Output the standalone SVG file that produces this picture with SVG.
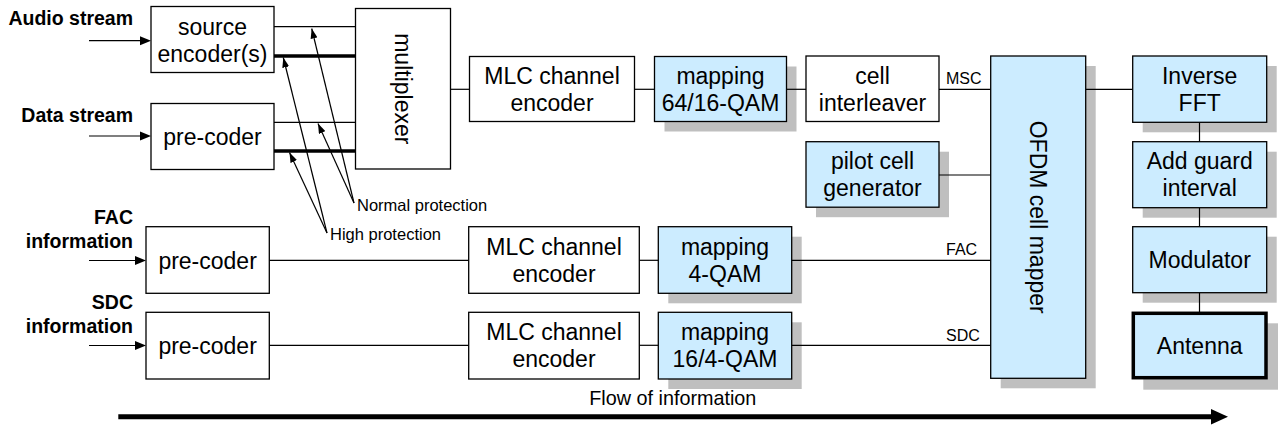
<svg xmlns="http://www.w3.org/2000/svg" width="1284" height="428" viewBox="0 0 1284 428">
<style>
.box{fill:#fff;stroke:#000;stroke-width:1.3}
.blue{fill:#CCECFF;stroke:#000;stroke-width:1.3}
.shadow{fill:#BFBFBF;stroke:none}
.t{font-family:"Liberation Sans",Arial,sans-serif;font-size:23px;fill:#000;text-anchor:middle}
.lbl{font-family:"Liberation Sans",Arial,sans-serif;font-size:19.5px;font-weight:bold;fill:#000;text-anchor:end}
.small{font-family:"Liberation Sans",Arial,sans-serif;font-size:16px;fill:#000}
.prot{font-family:"Liberation Sans",Arial,sans-serif;font-size:16.5px;fill:#000}
.flow{font-family:"Liberation Sans",Arial,sans-serif;font-size:19.8px;fill:#000;text-anchor:middle}
.ln{stroke:#000;stroke-width:1.2;fill:none}
.thick{stroke:#000;stroke-width:3.4;fill:none}
.ah{fill:#000}
</style>
<defs>
<marker id="sm" markerUnits="userSpaceOnUse" markerWidth="10" markerHeight="7" refX="10" refY="3.5" orient="auto">
<path d="M0,0 L10,3.5 L0,7 z" fill="#000"/>
</marker>
</defs>

<g id="shadows">
<rect class="shadow" x="664.5" y="66.5" width="132" height="65"/>
<rect class="shadow" x="816" y="151.7" width="133" height="65.5"/>
<rect class="shadow" x="1000.7" y="66" width="95" height="322.3"/>
<rect class="shadow" x="1142.7" y="66" width="134" height="66.3"/>
<rect class="shadow" x="1142.7" y="151.7" width="134" height="66"/>
<rect class="shadow" x="1142.7" y="236.7" width="134" height="66"/>
<rect class="shadow" x="1143.3" y="323.3" width="134.7" height="66.4"/>
<rect class="shadow" x="668.3" y="236.7" width="133.4" height="66.6"/>
<rect class="shadow" x="668.3" y="322.3" width="133.4" height="66.7"/>
</g>

<g id="connectors">
<line class="ln" x1="89" y1="40.7" x2="141" y2="40.7"/>
<polygon class="ah" points="140,36.2 151,40.7 140,45.2"/>
<line class="ln" x1="89" y1="136" x2="141" y2="136"/>
<polygon class="ah" points="140,131.5 151,136 140,140.5"/>
<line class="ln" x1="89" y1="260.5" x2="136" y2="260.5"/>
<polygon class="ah" points="135,256 146,260.5 135,265"/>
<line class="ln" x1="89" y1="345.5" x2="136" y2="345.5"/>
<polygon class="ah" points="135,341 146,345.5 135,350"/>
<line class="ln" x1="274" y1="26.7" x2="355.5" y2="26.7"/>
<line class="thick" x1="274" y1="56" x2="355.5" y2="56"/>
<line class="ln" x1="274" y1="122.3" x2="355.5" y2="122.3"/>
<line class="thick" x1="274" y1="151" x2="355.5" y2="151"/>
<line class="ln" x1="450.5" y1="89.3" x2="469.5" y2="89.3"/>
<line class="ln" x1="634.5" y1="89.3" x2="654.5" y2="89.3"/>
<line class="ln" x1="786.5" y1="89.3" x2="806" y2="89.3"/>
<line class="ln" x1="939" y1="89.3" x2="990.7" y2="89.3"/>
<line class="ln" x1="939" y1="175" x2="990.7" y2="175"/>
<line class="ln" x1="1085.7" y1="89.3" x2="1132.7" y2="89.3"/>
<line class="ln" x1="269.3" y1="260.3" x2="468.7" y2="260.3"/>
<line class="ln" x1="639.3" y1="260.3" x2="658.3" y2="260.3"/>
<line class="ln" x1="791.7" y1="260.3" x2="990.7" y2="260.3"/>
<line class="ln" x1="269.3" y1="345.3" x2="468.7" y2="345.3"/>
<line class="ln" x1="639.3" y1="345.3" x2="658.3" y2="345.3"/>
<line class="ln" x1="791.7" y1="345.3" x2="990.7" y2="345.3"/>
<line class="ln" x1="1199.5" y1="122.3" x2="1199.5" y2="141.7"/>
<line class="ln" x1="1199.5" y1="207.7" x2="1199.5" y2="226.7"/>
<line class="ln" x1="1199.5" y1="292.7" x2="1199.5" y2="313"/>
<line class="ln" x1="354" y1="203" x2="311.7" y2="28.5" marker-end="url(#sm)"/>
<line class="ln" x1="354" y1="203" x2="318" y2="123.5" marker-end="url(#sm)"/>
<line class="ln" x1="327" y1="233" x2="283.3" y2="57.5" marker-end="url(#sm)"/>
<line class="ln" x1="327" y1="233" x2="289.5" y2="152.5" marker-end="url(#sm)"/>
<line x1="118.3" y1="416.8" x2="1213" y2="416.8" stroke="#000" stroke-width="5"/>
<polygon class="ah" points="1211,409 1228,416.8 1211,424.6"/>
</g>

<g id="source-encoder"><rect class="box" x="151" y="6.5" width="123" height="66"/>
<text class="t" x="212.5" y="34.5">source</text><text class="t" x="212.5" y="61.5">encoder(s)</text></g>
<g id="data-precoder"><rect class="box" x="151" y="103.5" width="123" height="66"/>
<text class="t" x="212.5" y="145">pre-coder</text></g>
<g id="multiplexer"><rect class="box" x="355.5" y="8.5" width="95" height="160.5"/>
<text class="t" transform="translate(403,88.8) rotate(90)" x="0" y="8">multiplexer</text></g>
<g id="mlc-msc"><rect class="box" x="469.5" y="56.5" width="165" height="65"/>
<text class="t" x="552" y="83.5">MLC channel</text><text class="t" x="552" y="110.5">encoder</text></g>
<g id="map-msc"><rect class="blue" x="654.5" y="56.5" width="132" height="65"/>
<text class="t" x="720.5" y="83.5">mapping</text><text class="t" x="720.5" y="110.5">64/16-QAM</text></g>
<g id="cell-interleaver"><rect class="box" x="806" y="56" width="133" height="65.5"/>
<text class="t" x="872.5" y="83.5">cell</text><text class="t" x="872.5" y="110.5">interleaver</text></g>
<g id="pilot"><rect class="blue" x="806" y="141.7" width="133" height="65.5"/>
<text class="t" x="872.5" y="169">pilot cell</text><text class="t" x="872.5" y="196">generator</text></g>
<g id="ofdm"><rect class="blue" x="990.7" y="56" width="95" height="322.3"/>
<text class="t" transform="translate(1037.5,217.2) rotate(90)" x="0" y="8">OFDM cell mapper</text></g>
<g id="ifft"><rect class="blue" x="1132.7" y="56" width="134" height="66.3"/>
<text class="t" x="1199.7" y="83.5">Inverse</text><text class="t" x="1199.7" y="110.7">FFT</text></g>
<g id="guard"><rect class="blue" x="1132.7" y="141.7" width="134" height="66"/>
<text class="t" x="1199.7" y="169">Add guard</text><text class="t" x="1199.7" y="196">interval</text></g>
<g id="modulator"><rect class="blue" x="1132.7" y="226.7" width="134" height="66"/>
<text class="t" x="1199.7" y="268.2">Modulator</text></g>
<g id="antenna"><rect class="blue" x="1133.3" y="313.3" width="132.7" height="64.4" style="stroke-width:3.5"/>
<text class="t" x="1199.7" y="354">Antenna</text></g>
<g id="fac-precoder"><rect class="box" x="146" y="226.7" width="123.3" height="66.6"/>
<text class="t" x="207.6" y="268.5">pre-coder</text></g>
<g id="sdc-precoder"><rect class="box" x="146" y="312.3" width="123.3" height="66.7"/>
<text class="t" x="207.6" y="354">pre-coder</text></g>
<g id="mlc-fac"><rect class="box" x="468.7" y="226.7" width="170.6" height="66.6"/>
<text class="t" x="554" y="254.5">MLC channel</text><text class="t" x="554" y="281.5">encoder</text></g>
<g id="mlc-sdc"><rect class="box" x="468.7" y="312.3" width="170.6" height="66.7"/>
<text class="t" x="554" y="340">MLC channel</text><text class="t" x="554" y="367">encoder</text></g>
<g id="map-fac"><rect class="blue" x="658.3" y="226.7" width="133.4" height="66.6"/>
<text class="t" x="725" y="254.5">mapping</text><text class="t" x="725" y="281.5">4-QAM</text></g>
<g id="map-sdc"><rect class="blue" x="658.3" y="312.3" width="133.4" height="66.7"/>
<text class="t" x="725" y="340">mapping</text><text class="t" x="725" y="367">16/4-QAM</text></g>

<g id="labels">
<text class="lbl" x="133" y="25">Audio stream</text>
<text class="lbl" x="133" y="121.7">Data stream</text>
<text class="lbl" x="133" y="224">FAC</text>
<text class="lbl" x="133" y="248.3">information</text>
<text class="lbl" x="133" y="309">SDC</text>
<text class="lbl" x="133" y="332.7">information</text>
<text class="small" x="946" y="84">MSC</text>
<text class="small" x="946" y="255">FAC</text>
<text class="small" x="946" y="340.7">SDC</text>
<text class="prot" x="357" y="211">Normal protection</text>
<text class="prot" x="330" y="239.5">High protection</text>
<text class="flow" x="672.8" y="405">Flow of information</text>
</g>
</svg>
